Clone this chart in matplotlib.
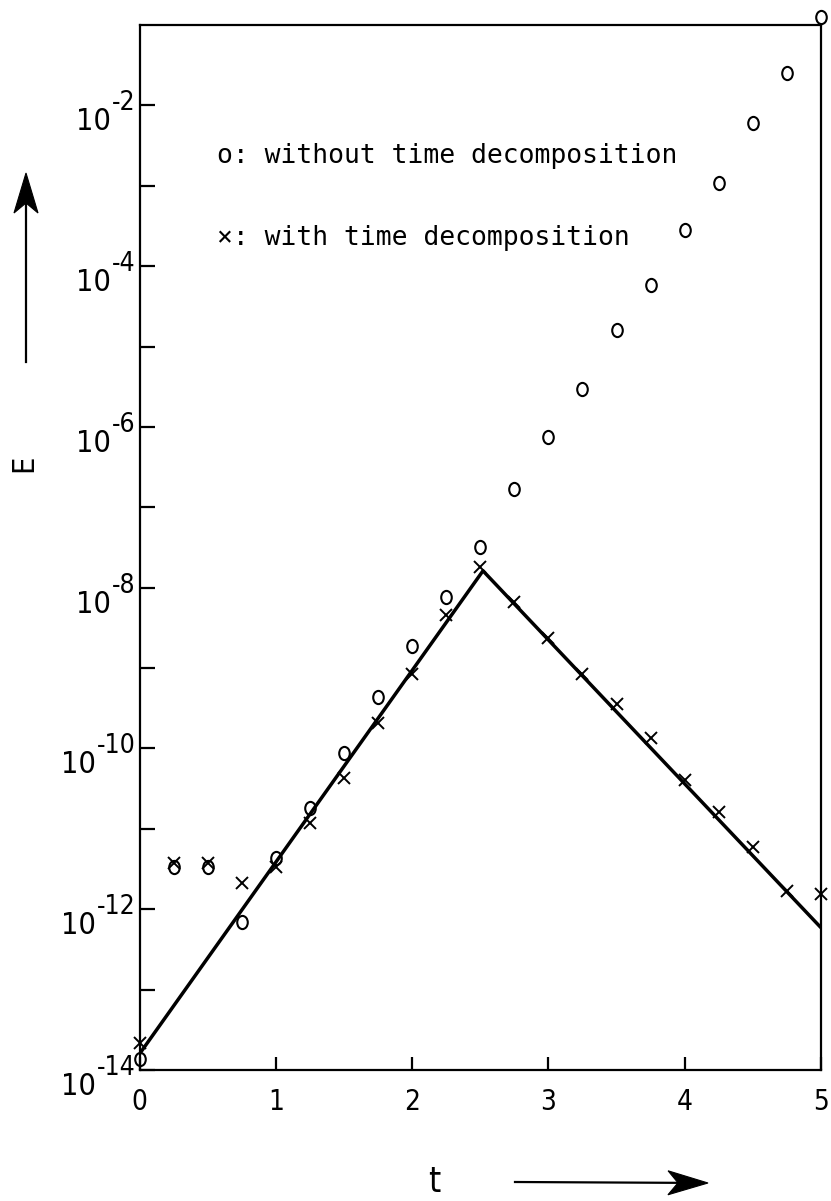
import numpy as np
import matplotlib
matplotlib.use("Agg")
import matplotlib.pyplot as plt
import matplotlib.transforms as mtransforms
from matplotlib.path import Path
from matplotlib.patches import Polygon
from matplotlib.lines import Line2D
from matplotlib.ticker import NullLocator

# ---- data -------------------------------------------------------------
t = [0.0, 0.25, 0.5, 0.75, 1.0, 1.25, 1.5, 1.75, 2.0, 2.25, 2.5,
     2.75, 3.0, 3.25, 3.5, 3.75, 4.0, 4.25, 4.5, 4.75, 5.0]

# log10(E) without time decomposition (circles)
log_e_without = [-13.86, -11.48, -11.47, -12.16, -11.36, -10.74, -10.06,
                 -9.36, -8.72, -8.11, -7.50, -6.77, -6.12, -5.53, -4.79,
                 -4.24, -3.545, -2.96, -2.225, -1.60, -0.90]

# log10(E) with time decomposition (crosses)
log_e_with = [-13.66, -11.42, -11.42, -11.67, -11.47, -10.93, -10.37,
              -9.68, -9.07, -8.34, -7.74, -8.18, -8.62, -9.07, -9.45,
              -9.875, -10.39, -10.79, -11.23, -11.77, -11.81]

# reference line (break points)
line_t = [0.0, 2.52, 5.0]
line_log_e = [-13.80, -7.79, -12.23]

y_exponents = list(range(-14, -1))
y_labelled = [-14, -12, -10, -8, -6, -4, -2]
x_ticks = [0, 1, 2, 3, 4, 5]

legend_lines = ["o: without time decomposition",
                "\u00d7: with time decomposition"]

# ---- figure -----------------------------------------------------------
W, H = 831, 1201
DPI = 100
fig = plt.figure(figsize=(W / DPI, H / DPI), dpi=DPI)
fig.patch.set_facecolor("white")

cond = dict(family="DejaVu Sans", stretch="condensed")


def fx(x):
    return x / W


def fy(y):
    return 1 - y / H


def px(n):
    # pixel offset as a display-space translation
    return n / DPI


left, right, top, bottom = 139.5, 821, 25, 1070
ax = fig.add_axes([fx(left), fy(bottom), (right - left) / W, (bottom - top) / H])

ax.set_yscale("log")
ax.set_xlim(0, 5)
ax.set_ylim(1e-14, 1e-1)

for sp in ax.spines.values():
    sp.set_linewidth(1.6)

# reference line
ax.plot(line_t, 10.0 ** np.array(line_log_e), color="black", lw=2.5,
        solid_capstyle="butt", zorder=2)

# slightly tall open circle, like a typed "o"
circ = Path.unit_circle()
oval = Path(circ.vertices * np.array([0.8, 1.0]), circ.codes)

ax.plot(t, 10.0 ** np.array(log_e_without), linestyle="none", marker=oval,
        markersize=9.5, markerfacecolor="none", markeredgecolor="black",
        markeredgewidth=1.5, clip_on=False, zorder=3)
ax.plot(t, 10.0 ** np.array(log_e_with), linestyle="none", marker="x",
        markersize=8.5, markeredgecolor="black", markeredgewidth=1.4,
        clip_on=False, zorder=3)

# ticks
ax.set_yticks([10.0 ** k for k in y_exponents])
ax.yaxis.set_minor_locator(NullLocator())
ax.tick_params(axis="y", which="major", direction="in", length=11, width=1.6,
               left=True, right=False, labelleft=False)
ax.set_xticks(x_ticks)
ax.set_xticklabels([str(v) for v in x_ticks], fontsize=20, **cond)
ax.tick_params(axis="x", which="major", direction="in", length=9.5, width=1.6,
               bottom=True, top=False, pad=13)

# y tick labels: raised exponent ending near the axis, "10" just below the tick
exp_tr = ax.get_yaxis_transform() + mtransforms.ScaledTranslation(
    -px(4), -px(5), fig.dpi_scale_trans)
for k in y_labelled:
    exp_txt = ax.text(0, 10.0 ** k, "-%d" % abs(k), transform=exp_tr,
                      ha="right", va="baseline", fontsize=19, clip_on=False,
                      **cond)
    ax.annotate("10", xy=(0, 0), xycoords=exp_txt, xytext=(-1, -20),
                textcoords="offset pixels", ha="right", va="bottom",
                fontsize=22, annotation_clip=False, **cond)

# legend text
for i, line in enumerate(legend_lines):
    fig.text(fx(217), fy(163 + 82 * i), line, fontfamily="DejaVu Sans Mono",
             fontsize=19, ha="left", va="baseline")

# axis names
fig.text(fx(24), fy(463), "E", rotation=90, fontsize=22,
         ha="center", va="center", **cond)
fig.text(fx(434), fy(1182), "t", fontsize=25,
         ha="center", va="center", **cond)


def arrow(tail, tip, head_len=40, head_w=24, notch=10):
    (x0, y0), (x1, y1) = tail, tip
    d = np.array([x1 - x0, y1 - y0], float)
    d /= np.hypot(*d)
    n = np.array([-d[1], d[0]])
    tipv = np.array([x1, y1], float)
    base = tipv - d * head_len
    back = tipv - d * (head_len - notch)
    fig.add_artist(Line2D([fx(x0), fx(back[0])], [fy(y0), fy(back[1])],
                          transform=fig.transFigure, color="black", lw=1.6))
    pts = [tipv, base + n * head_w / 2, back, base - n * head_w / 2]
    fig.add_artist(Polygon([(fx(p[0]), fy(p[1])) for p in pts], closed=True,
                           transform=fig.transFigure, facecolor="black",
                           edgecolor="black", lw=0.8))


arrow((26, 362), (26, 173))
arrow((515, 1182), (708, 1183))

fig.savefig("out.png", dpi=DPI, facecolor="white")
